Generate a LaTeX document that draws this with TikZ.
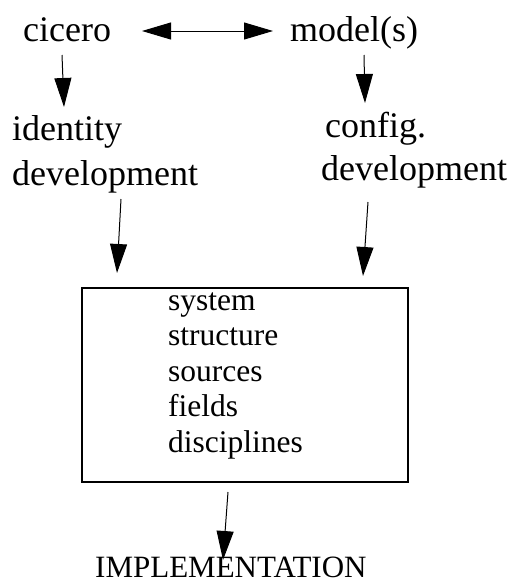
\documentclass[tikz,border=0pt]{standalone}
\usepackage{fontspec}
\setmainfont{Liberation Serif}
\usetikzlibrary{arrows.meta}
\begin{document}
\begin{tikzpicture}[x=1pt,y=-1pt,
  bigtext/.style={font=\fontsize{36}{44}\selectfont, inner sep=0pt, anchor=base west, align=left},
  smalltext/.style={font=\fontsize{31.5}{35.5}\selectfont, inner sep=0pt, anchor=base west, align=left},
  arr/.style={line width=1pt, -{Triangle[length=29pt,width=17pt]}},
  darr/.style={line width=1pt, {Triangle[length=29pt,width=17pt]}-{Triangle[length=29pt,width=17pt]}},
  frame/.style={draw, line width=2pt, inner sep=0pt, anchor=north west}]
\useasboundingbox (0,0) rectangle (529,587);

% top row
\node[bigtext] (cicero) at (23,41) {cicero};
\node[bigtext] (models) at (290,41) {model(s)};

% development stages (placed by the baseline of their last line)
\node[bigtext] (identity) at (12,185) {identity\\[1pt]development};
\node[bigtext] (config) at (321,180) {\hspace*{4pt}config.\\[-1pt]development};

% central box and its list
\node[frame, minimum width=326.6pt, minimum height=193.4pt] (box) at (80.7,287.3) {};
\node[smalltext] (list) at (168,452) {system\\structure\\sources\\fields\\disciplines};

% outcome
\node[font=\fontsize{31}{36}\selectfont, inner sep=0pt, anchor=base west] (impl) at (95,577) {IMPLEMENTATION};

% connector end points
\coordinate (lr-a) at (142,31);
\coordinate (lr-b) at (273,31);
\coordinate (ci-a) at (62,55);
\coordinate (ci-b) at (64,107);
\coordinate (mo-a) at (364,55);
\coordinate (mo-b) at (365,103);
\coordinate (id-a) at (121,199);
\coordinate (id-b) at (117,273);
\coordinate (co-a) at (368,202);
\coordinate (co-b) at (363,276);
\coordinate (bx-a) at (228,492);
\coordinate (bx-b) at (223,560);

\draw[darr] (lr-a) -- (lr-b);
\draw[arr] (ci-a) -- (ci-b);
\draw[arr] (mo-a) -- (mo-b);
\draw[arr] (id-a) -- (id-b);
\draw[arr] (co-a) -- (co-b);
\draw[arr] (bx-a) -- (bx-b);
\end{tikzpicture}
\end{document}
